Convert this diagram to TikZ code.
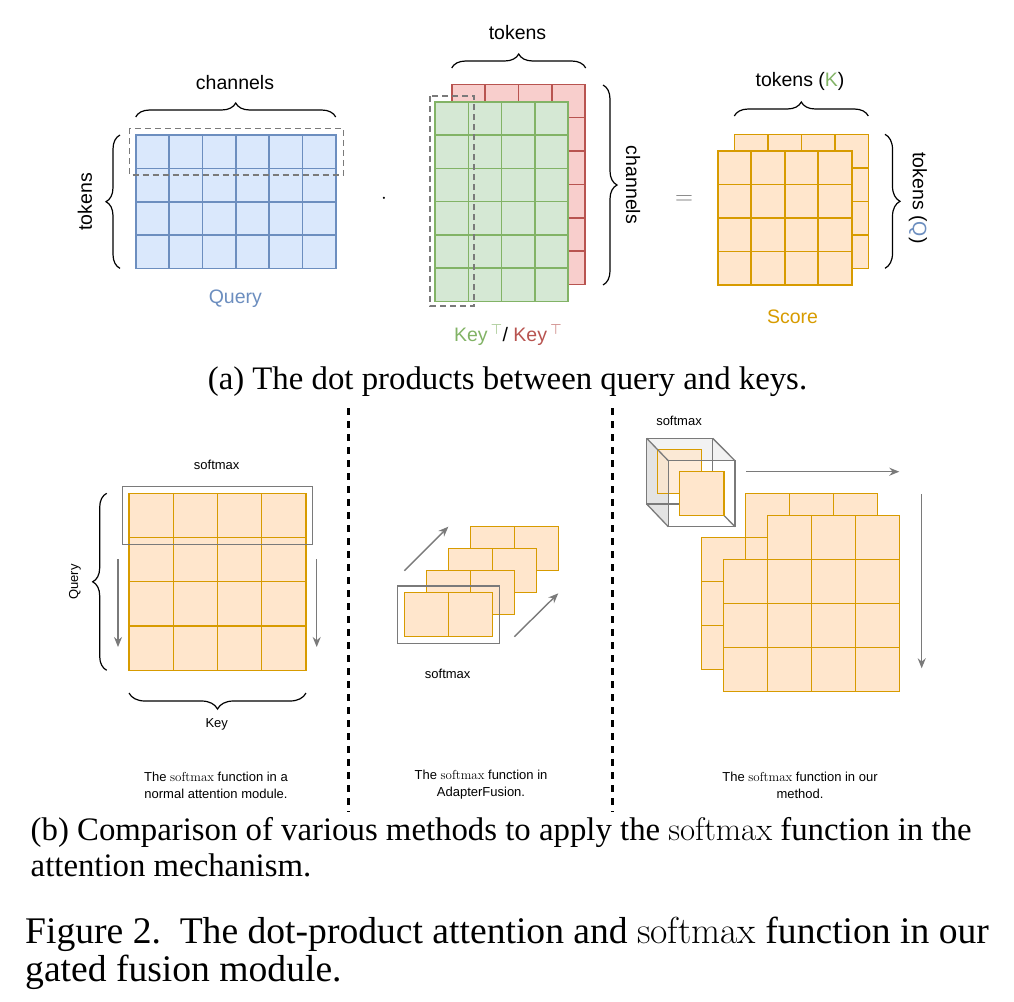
\documentclass[tikz,border=0pt]{standalone}
\usepackage{fontspec}
\setmainfont{Liberation Serif}
\setsansfont{Liberation Sans}
\usepackage{tikz}
\usetikzlibrary{arrows.meta, positioning, decorations.pathreplacing}
\definecolor{qFill}{HTML}{DAE8FC}
\definecolor{qDraw}{HTML}{6C8EBF}
\definecolor{kFill}{HTML}{D5E8D4}
\definecolor{kDraw}{HTML}{82B366}
\definecolor{rFill}{HTML}{F8CECC}
\definecolor{rDraw}{HTML}{B85450}
\definecolor{sFill}{HTML}{FFE6CC}
\definecolor{sDraw}{HTML}{D79B00}
\definecolor{cGray}{HTML}{7A7A7A}
\newcommand{\smx}{{\fontfamily{lmr}\selectfont softmax}}
% one block of cells: style, x, y, columns, rows, cell size
\newcommand{\cells}[6]{%
	\fill[#1] (#2,#3) rectangle ++({#4*#6},{#5*#6});
	\foreach \i in {1,...,#4}{\foreach \j in {1,...,#5}{%
		\draw[#1, fill=none] ({#2+(\i-1)*#6},{#3+(\j-1)*#6}) rectangle ++(#6,#6);}}}
\tikzset{
	qcell/.style={fill=qFill, draw=qDraw, line width=1.6pt},
	kcell/.style={fill=kFill, draw=kDraw, line width=1.6pt},
	rcell/.style={fill=rFill, draw=rDraw, line width=1.6pt},
	scell/.style={fill=sFill, draw=sDraw, line width=1.6pt},
	ocell/.style={fill=sFill, draw=sDraw, line width=1.2pt},
	dashbox/.style={draw=cGray, line width=1.6pt, dash pattern=on 6pt off 4pt},
	softbox/.style={draw=cGray, line width=1.5pt},
	cubeedge/.style={draw=cGray, line width=1.3pt},
	curly/.style={decorate, decoration={brace, amplitude=#1}, line width=1.2pt},
	flowarrow/.style={-{Stealth[length=10pt, width=8pt]}, line width=1.4pt, cGray},
	sep/.style={line width=3pt, dash pattern=on 7pt off 6pt},
	lbl/.style={font=\sffamily\fontsize{19.5}{23}\selectfont, inner sep=0pt},
	small/.style={font=\sffamily\fontsize{13}{17}\selectfont, align=center, inner sep=0pt},
	caption/.style={font=\rmfamily\fontsize{32.8}{36}\selectfont, anchor=base west, inner sep=0pt},
}
\begin{document}
\begin{tikzpicture}[x=1pt, y=-1pt, font=\sffamily]
\useasboundingbox (0,0) rectangle (1014,1001);

% (a) query
\cells{qcell}{135.7}{135}{6}{4}{33.35}
\draw[dashbox] (129.3,128.3) rectangle (343.3,175);
\draw[curly=14pt] (135.7,117) -- (335.7,117);
\draw[curly=14pt] (120,268.4) -- (120,135);
\node[lbl] (qch) at (235,83) {channels};
\node[lbl, rotate=90] (qtok) at (85,201.7) {tokens};
\node[lbl, text=qDraw] (qname) at (235.3,299) {Query};
\node[font=\fontsize{22}{22}\selectfont] (dotop) at (384,199) {$\cdot$};

% keys
\cells{rcell}{451.7}{84.3}{4}{6}{33.35}
\cells{kcell}{435}{101.7}{4}{6}{33.3}
\draw[dashbox] (430,96) rectangle (474,306);
\draw[curly=14pt] (451.7,68) -- (585.7,68);
\draw[curly=14pt] (603,85) -- (603,285);
\node[lbl] (ktok) at (517.5,33) {tokens};
\node[lbl, rotate=-90] (kch) at (633,185) {channels};
\node[lbl] (kname) at (508,335) {{\color{kDraw}Key\,$^{\top}$}/ {\color{rDraw}Key\,$^{\top}$}};
\node[font=\fontsize{25}{25}\selectfont, text=cGray] (eqop) at (684,200) {$=$};

% score
\cells{scell}{734.3}{134.3}{4}{4}{33.5}
\cells{scell}{717.7}{151}{4}{4}{33.5}
\draw[curly=14pt] (734.3,116) -- (868.3,116);
\draw[curly=15pt] (885,134.3) -- (885,268.3);
\node[lbl] (stok) at (800,81.7) {tokens ({\color{kDraw}K})};
\node[lbl, rotate=-90] (sq) at (918,198) {tokens ({\color{qDraw}Q})};
\node[lbl, text=sDraw] (sname) at (792.5,316.7) {Score};

\node[caption, anchor=base] (capa) at (507.5,389) {(a) The dot products between query and keys.};

% separators
\draw[sep] (348.7,408) -- (348.7,812);
\draw[sep] (612.7,408) -- (612.7,812);

% (b) normal attention
\cells{ocell}{129}{493.3}{4}{4}{44.25}
\draw[softbox] (122.7,486.7) rectangle (312.7,544.3);
\coordinate (la1) at (118,559);   \coordinate (la2) at (118,647);
\coordinate (ra1) at (316.7,559); \coordinate (ra2) at (316.7,647);
\draw[flowarrow] (la1) -- (la2);
\draw[flowarrow] (ra1) -- (ra2);
\draw[curly=14pt] (106.7,670.3) -- (106.7,493.3);
\draw[curly=16pt] (306,693) -- (129,693);
\node[small] (sm1) at (216.7,465) {softmax};
\node[small, rotate=90] (nq) at (75,582) {Query};
\node[small] (nk) at (216.7,724) {Key};
\node[small] (cap1) at (216,785) {The \smx{} function in a\\normal attention module.};

% (b) AdapterFusion
\foreach \k in {3,2,1}{\cells{ocell}{404.3+22*\k}{592.3-22*\k}{2}{1}{44.2}}
\draw[softbox] (397.7,586) rectangle (499.3,643.3);
\cells{ocell}{404.3}{592.3}{2}{1}{44.2}
\coordinate (ma1) at (404.3,570.7); \coordinate (ma2) at (448.3,526.7);
\coordinate (mb1) at (514.3,636.7); \coordinate (mb2) at (558.3,593.3);
\draw[flowarrow] (ma1) -- (ma2);
\draw[flowarrow] (mb1) -- (mb2);
\node[small] (sm2) at (447.7,674) {softmax};
\node[small] (cap2) at (481,785) {The \smx{} function in\\AdapterFusion.};

% (b) our method
\fill[gray!10] (646.7,438.3) -- (712.7,438.3) -- (735,460.7) -- (668.3,460.7) -- cycle;
\fill[gray!22] (646.7,438.3) -- (668.3,460.7) -- (668.3,526.7) -- (646.7,504) -- cycle;
\filldraw[ocell, fill opacity=0.75] (657.3,449.3) rectangle (701.7,493.3);
\draw[cubeedge] (646.7,438.3) rectangle (712.7,504);
\draw[cubeedge] (668.3,460.7) rectangle (735,526.7);
\draw[cubeedge] (646.7,438.3) -- (668.3,460.7) (712.7,438.3) -- (735,460.7)
	(646.7,504) -- (668.3,526.7) (712.7,504) -- (735,526.7);
\filldraw[ocell] (679.3,471.7) rectangle (724,515.7);
\node[small] (sm3) at (679,420.7) {softmax};
\cells{ocell}{745.7}{493.3}{3}{3}{44}
\cells{ocell}{701.7}{537.3}{4}{3}{44}
\cells{ocell}{767.7}{515.3}{3}{3}{44}
\cells{ocell}{723.3}{559.3}{4}{3}{44}
\coordinate (oa1) at (746,471.7);  \coordinate (oa2) at (899.3,471.7);
\coordinate (ob1) at (921.7,494);  \coordinate (ob2) at (921.7,668.3);
\draw[flowarrow] (oa1) -- (oa2);
\draw[flowarrow] (ob1) -- (ob2);
\node[small] (cap3) at (800,785) {The \smx{} function in our\\method.};

% captions
\node[caption] (capb1) at (30.5,840) {(b) Comparison of various methods to apply the \smx{} function in the};
\node[caption] (capb2) at (30.5,876) {attention mechanism.};
\node[caption, font=\rmfamily\fontsize{37.6}{39}\selectfont] (fig1) at (25,943) {Figure 2.\ \ The dot-product attention and \smx{} function in our};
\node[caption, font=\rmfamily\fontsize{37.6}{39}\selectfont] (fig2) at (25,981.5) {gated fusion module.};
\end{tikzpicture}
\end{document}
